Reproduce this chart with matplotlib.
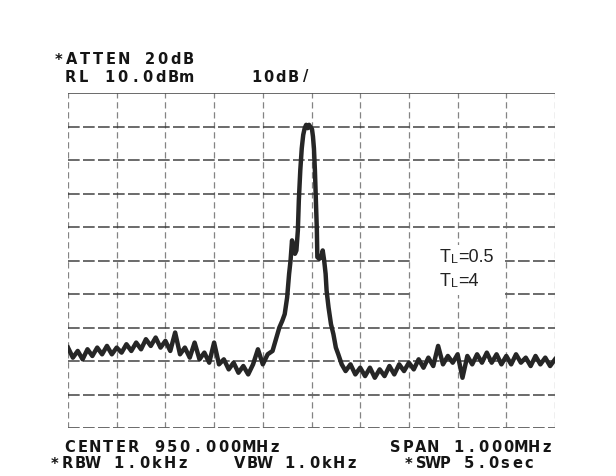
import matplotlib.pyplot as plt
from matplotlib.patches import Rectangle

# frequency offset from 950.000 MHz in kHz, level in dBm
freq_left = [-500, -490, -480, -470, -460, -450, -440, -430, -420, -410,
             -400, -390, -380, -370, -360, -350, -340, -330, -320, -310,
             -300, -290, -280, -270, -260, -250, -240, -230, -220, -210,
             -200, -190, -180, -170, -160, -150, -140, -130, -120, -110,
             -100, -90, -80, -70]
level_left = [-66, -69, -67, -69.5, -66.5, -68.5, -66, -68, -65.5, -68,
              -66, -67.5, -65, -67, -64.5, -66.5, -63.5, -65.5, -63, -66,
              -64, -67, -61.5, -68, -66, -69, -64.5, -69.5, -67.5, -70.5,
              -64.5, -71, -69.5, -72.5, -70.5, -73.5, -71.5, -74, -71, -66.5,
              -71, -68, -67, -62]

freq_peak = [-66, -60, -55, -50, -46, -43, -40, -37, -34, -31, -28, -26, -23,
             -20, -17, -14, -11, -8, -5, -2, 1, 3, 5, 7, 9, 11, 12, 16, 20,
             23, 26, 29, 31, 35, 40, 45, 50, 55, 62]
level_peak = [-60, -58, -56, -51, -44, -40, -34, -36, -38, -37, -31, -22, -13,
              -6.5, -2.5, -0.5, 0.5, -0.5, 0.5, -0.2, -0.8, -3, -6.5, -13, -22, -31, -39,
              -39.5, -39, -37, -40, -44, -49, -54, -59, -62, -66, -68, -71]

freq_right = [70, 80, 90, 100, 110, 120, 130, 140, 150, 160,
              170, 180, 190, 200, 210, 220, 230, 240, 250, 260,
              270, 280, 290, 300, 310, 320, 330, 340, 350, 360,
              370, 380, 390, 400, 410, 420, 430, 440, 450, 460,
              470, 480, 490, 500]
level_right = [-73, -71, -74, -72, -74.5, -72, -75, -72.5, -74.5, -71.5,
               -74, -71, -73, -70.5, -72.5, -69.5, -72, -69, -71.5, -65.5,
               -71, -68.5, -70.5, -68, -75, -68.5, -71, -68, -70.5, -67.5,
               -70.5, -68, -71, -68.5, -71, -68, -70.5, -69, -71.5, -68.5,
               -71, -69, -71.5, -69.5]

freq = freq_left + freq_peak + freq_right
level = level_left + level_peak + level_right

W, H = 616, 476
fig = plt.figure(figsize=(W / 100, H / 100), dpi=100)
fig.patch.set_facecolor('white')

def px(x, y):
    return x / W, 1 - y / H

x0, x1, y0, y1 = 68, 555, 93, 428
ax = fig.add_axes([x0 / W, 1 - y1 / H, (x1 - x0) / W, (y1 - y0) / H])
ax.set_xlim(-500, 500)
ax.set_ylim(-90, 10)
for s in ax.spines.values():
    s.set_visible(False)
ax.set_xticks([])
ax.set_yticks([])

for k in range(11):
    lv = -90 + 10 * k
    ls = '-' if k == 10 else (0, (7, 2))
    ax.axhline(lv, color='#333333', lw=1.2, ls=ls, alpha=0.85, zorder=1)
    ax.axvline(-500 + 100 * k, color='#666666', lw=0.9, ls=(0, (5, 3)), alpha=0.8, zorder=1)

ax.plot(freq, level, color='#262626', lw=3.2, solid_joinstyle='round', zorder=3)

# white patch behind the TL labels
fig.patches.append(Rectangle(px(413, 295), 92 / W, 50 / H, transform=fig.transFigure,
                             facecolor='white', edgecolor='none', zorder=2))

def spaced(text, x, y, pitch, size=10.5):
    for i, ch in enumerate(text):
        fx, fy = px(x + (i + 0.5) * pitch, y)
        fig.text(fx, fy, ch, ha='center', va='center', fontsize=size,
                 fontweight='bold', family='DejaVu Sans', color='#151515')

spaced('*ATTEN 20dB', 52, 60, 13.0)
spaced('RL 10.0dBm', 64, 77, 12.9)
spaced('10dB/', 250, 77, 12.4)
spaced('CENTER 950.000MHz', 63, 448, 12.8)
spaced('SPAN 1.000MHz', 389, 448, 12.6)
spaced('*RBW 1.0kHz', 48, 464, 12.8)
spaced('VBW 1.0kHz', 233, 464, 12.5)
spaced('*SWP 5.0sec', 403, 464, 12.0)

for lab, yy in [('=0.5', 258), ('=4', 282)]:
    fig.text(*px(440, yy), 'T', ha='left', va='center', fontsize=13,
             family='Liberation Sans', color='#222222', zorder=4)
    fig.text(*px(451, yy + 2), 'L', ha='left', va='center', fontsize=9,
             family='Liberation Sans', color='#222222', zorder=4)
    fig.text(*px(458, yy), lab, ha='left', va='center', fontsize=13,
             family='Liberation Sans', color='#222222', zorder=4)

fig.savefig('out.png', dpi=100)
